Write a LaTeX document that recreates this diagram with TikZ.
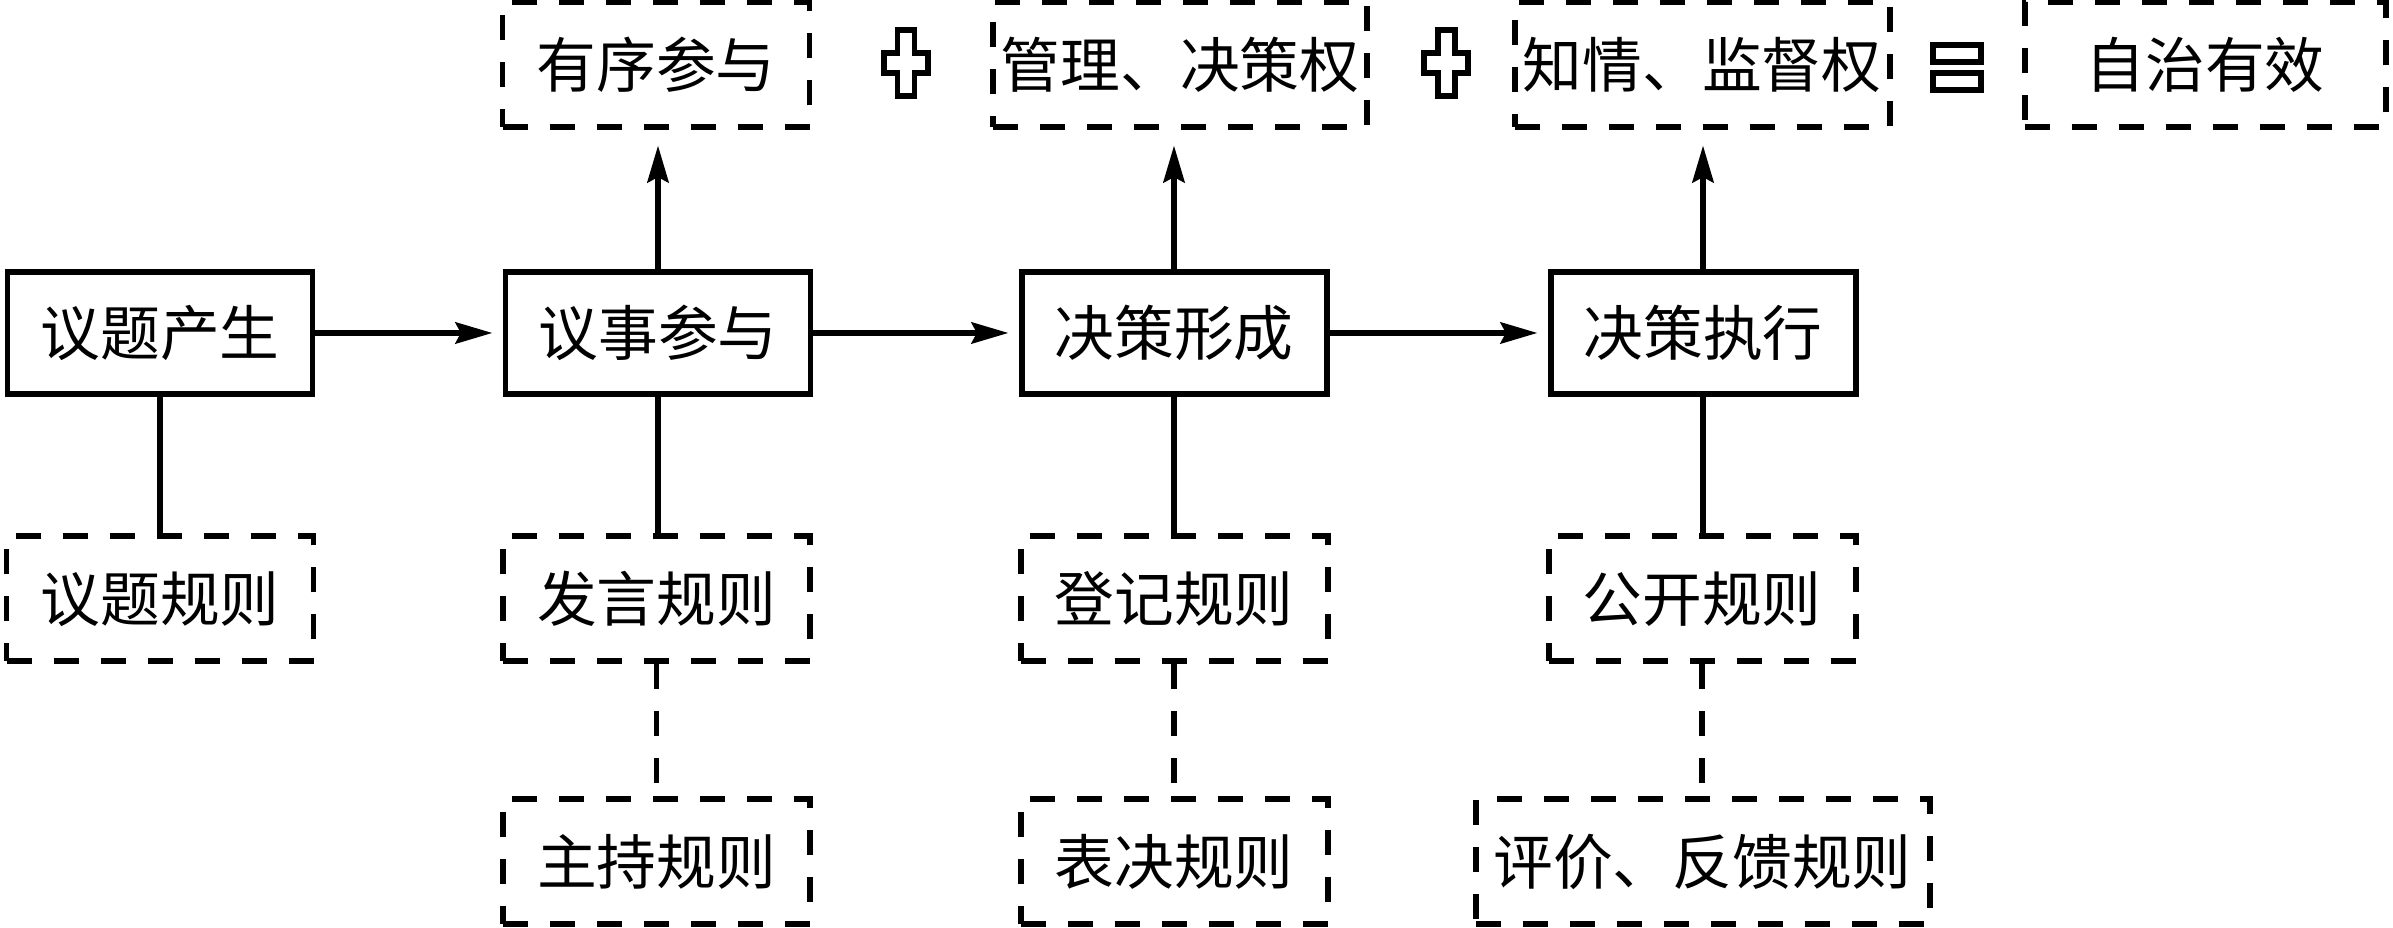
\documentclass[tikz,border=0pt]{standalone}
\usepackage{fontspec}
\setmainfont{Noto Sans CJK SC}
\usetikzlibrary{arrows.meta,calc}

\tikzset{
  solidbox/.style={draw,line width=1.7pt,minimum height=1.22cm,minimum width=3.05cm,inner sep=0pt},
  dashbox/.style={draw,line width=1.7pt,dash pattern=on 0.25cm off 0.22cm,minimum height=1.25cm,minimum width=3.07cm,inner sep=0pt},
  arr/.style={line width=1.7pt,-{Stealth[length=10.5pt,width=6pt,inset=1.5pt]}},
  link/.style={line width=1.7pt},
  dlink/.style={line width=1.7pt,dash pattern=on 0.25cm off 0.22cm}
}

\begin{document}
\begin{tikzpicture}[font=\fontsize{17pt}{20pt}\selectfont]
\useasboundingbox (0,0) rectangle (23.93,9.28);

% the four stages
\node[solidbox] (gen)  at (1.60,5.95) {议题产生};
\node[solidbox] (part) at (6.58,5.95) {议事参与};
\node[solidbox] (form) at (11.74,5.95) {决策形成};
\node[solidbox] (exec) at (17.03,5.95) {决策执行};

% what each stage gives
\node[dashbox] (ord)  at (6.56,8.63) {有序参与};
\node[dashbox,minimum width=3.74cm] (mgmt) at (11.80,8.63) {管理、决策权};
\node[dashbox,minimum width=3.75cm] (know) at (17.02,8.63) {知情、监督权};
\node[dashbox,minimum width=3.61cm] (auto) at (22.05,8.63) {自治有效};

% rules, first row
\node[dashbox] (topicrule) at (1.60,3.29) {议题规则};
\node[dashbox] (speakrule) at (6.565,3.29) {发言规则};
\node[dashbox] (regrule)   at (11.74,3.29) {登记规则};
\node[dashbox] (openrule)  at (17.02,3.29) {公开规则};

% rules, second row
\node[dashbox] (hostrule) at (6.565,0.665) {主持规则};
\node[dashbox] (voterule) at (11.74,0.665) {表决规则};
\node[dashbox,minimum width=4.54cm] (evalrule) at (17.025,0.665) {评价、反馈规则};

% the outlined plus and equals signs
\coordinate (plusA) at (9.06,8.65);
\coordinate (plusB) at (14.46,8.65);
\coordinate (eqC)   at (19.57,8.60);
\foreach \p in {plusA,plusB}
  \draw[line width=1.7pt] ($(\p)+(-0.085,0.33)$) -- ++(0.17,0) -- ++(0,-0.23) -- ++(0.135,0)
    -- ++(0,-0.20) -- ++(-0.135,0) -- ++(0,-0.23) -- ++(-0.17,0) -- ++(0,0.23)
    -- ++(-0.135,0) -- ++(0,0.20) -- ++(0.135,0) -- cycle;
\draw[line width=1.7pt] ($(eqC)+(-0.24,0.055)$) rectangle ($(eqC)+(0.24,0.225)$);
\draw[line width=1.7pt] ($(eqC)+(-0.24,-0.055)$) rectangle ($(eqC)+(0.24,-0.225)$);

% flow between stages
\draw[arr,shorten >=0.1cm] (gen.east) -- (part.west);
\draw[arr,shorten >=0.1cm] (part.east) -- (form.west);
\draw[arr,shorten >=0.1cm] (form.east) -- (exec.west);

% up to the results
\draw[arr,shorten >=0.15cm] (part.north) -- (part.north |- ord.south);
\draw[arr,shorten >=0.15cm] (form.north) -- (form.north |- mgmt.south);
\draw[arr,shorten >=0.15cm] (exec.north) -- (exec.north |- know.south);

% down to the rules
\draw[link] (gen.south) -- (topicrule.north);
\draw[link] (part.south) -- (part.south |- speakrule.north);
\draw[link] (form.south) -- (regrule.north);
\draw[link] (exec.south) -- (exec.south |- openrule.north);
\draw[dlink] (speakrule.south) -- (hostrule.north);
\draw[dlink] (regrule.south) -- (voterule.north);
\draw[dlink] (openrule.south) -- (openrule.south |- evalrule.north);
\end{tikzpicture}
\end{document}
